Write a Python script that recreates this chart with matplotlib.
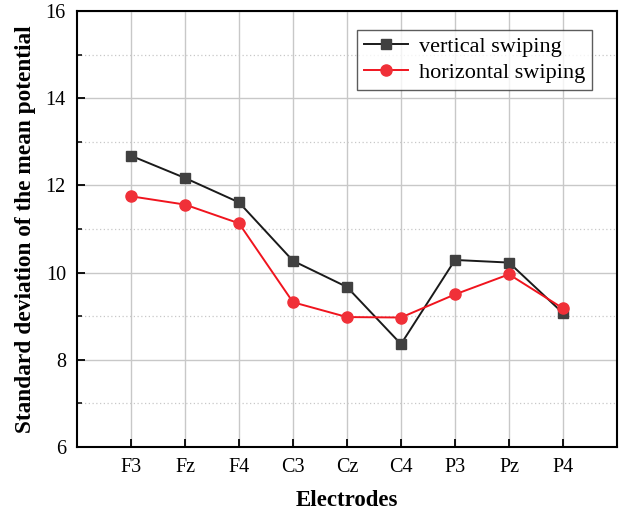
import matplotlib
matplotlib.use("Agg")
import matplotlib.pyplot as plt
from matplotlib.ticker import MultipleLocator

electrodes = ["F3", "Fz", "F4", "C3", "Cz", "C4", "P3", "Pz", "P4"]
vertical = [12.68, 12.17, 11.61, 10.27, 9.67, 8.36, 10.29, 10.23, 9.07]
horizontal = [11.75, 11.56, 11.13, 9.32, 8.98, 8.97, 9.50, 9.96, 9.18]

plt.rcParams['font.family'] = ['Liberation Serif', 'DejaVu Serif']

fig = plt.figure(figsize=(6.24, 5.16), dpi=100)
ax = fig.add_axes([77/624, 69/516, 540/624, 436/516])

x = list(range(1, len(electrodes) + 1))
ax.plot(x, vertical, color='#1a1a1a', lw=1.4, marker='s', markersize=7.2,
        markerfacecolor='#404040', markeredgecolor='#404040', label='vertical swiping', zorder=3)
ax.plot(x, horizontal, color='#f0141e', lw=1.4, marker='o', markersize=8,
        markerfacecolor='#f03038', markeredgecolor='#f03038', label='horizontal swiping', zorder=3)

ax.set_xlim(0, 10)
ax.set_ylim(6, 16)
ax.set_xticks(x)
ax.set_xticklabels(electrodes)
ax.yaxis.set_major_locator(MultipleLocator(2))
ax.yaxis.set_minor_locator(MultipleLocator(1))

ax.grid(True, which='major', axis='both', color='#c8c8c8', lw=1.0, zorder=0)
ax.grid(True, which='minor', axis='y', color='#c8c8c8', lw=0.9, ls=(0, (1, 2)), zorder=0)
ax.set_axisbelow(True)

ax.tick_params(axis='both', which='major', direction='in', length=6, width=1.3,
               labelsize=14.5, right=False, top=False)
ax.tick_params(axis='x', which='major', pad=8)
ax.tick_params(axis='y', which='major', pad=8)
ax.tick_params(axis='y', which='minor', direction='in', length=3.5, width=1.1)
for s in ax.spines.values():
    s.set_linewidth(1.5)

ax.set_xlabel('Electrodes', fontsize=16.5, fontweight='bold', labelpad=9)
ax.set_ylabel('Standard deviation of the mean potential', fontsize=16.8,
              fontweight='bold', labelpad=7)

leg = ax.legend(loc='upper right', bbox_to_anchor=(0.954, 0.957), fontsize=16,
                frameon=True, fancybox=False, edgecolor='#333333',
                handlelength=2.0, borderpad=0.3, labelspacing=0.25,
                handletextpad=0.5, borderaxespad=0)
leg.get_frame().set_linewidth(1.0)

fig.savefig('out.png', dpi=100)
